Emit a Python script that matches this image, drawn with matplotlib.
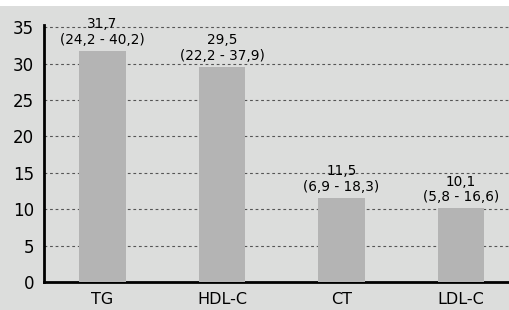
import matplotlib
matplotlib.use("Agg")
import matplotlib.pyplot as plt
from matplotlib.patches import Rectangle

categories = ["TG", "HDL-C", "CT", "LDL-C"]
values = [31.7, 29.5, 11.5, 10.1]
ranges = ["(24,2 - 40,2)", "(22,2 - 37,9)", "(6,9 - 18,3)", "(5,8 - 16,6)"]
yticks = [0, 5, 10, 15, 20, 25, 30, 35]

BG = "#dcdddc"
BAR = "#b4b4b4"

plt.rcParams["font.family"] = ["DejaVu Sans"]

fig = plt.figure(figsize=(5.1, 3.1), dpi=100)
fig.patch.set_facecolor("white")
fig.patches.append(Rectangle((0, 0), 1, 1 - 6 / 310, transform=fig.transFigure,
                             facecolor=BG, edgecolor="none", zorder=-10))

ax = fig.add_axes([44 / 510, 28 / 310, 1 - 44 / 510, (282 - 25) / 310])
ax.set_facecolor(BG)

x = list(range(len(categories)))
ax.bar(x, values, width=0.39, color=BAR, zorder=3)

for xi, v, r in zip(x, values, ranges):
    label = f"{v:.1f}".replace(".", ",")
    ax.annotate(f"{label}\n{r}", (xi, v), xytext=(0, 3), textcoords="offset points",
                ha="center", va="bottom", fontsize=9.8, linespacing=1.15, zorder=4)

ax.set_xlim(-0.49, 3.41)
ax.set_ylim(0, 35.3)
ax.set_yticks(yticks)
ax.set_xticks(x)
ax.set_xticklabels(categories, fontsize=11.5)
ax.tick_params(axis="y", length=0, pad=7, labelsize=12)
ax.tick_params(axis="x", length=0, pad=7)

ax.yaxis.grid(True, color="#555555", linewidth=0.8, linestyle=(0, (2.5, 2.5)), zorder=1)
ax.set_axisbelow(True)

for side in ("top", "right"):
    ax.spines[side].set_visible(False)
for side in ("left", "bottom"):
    ax.spines[side].set_linewidth(2)
    ax.spines[side].set_color("black")

fig.savefig("out.png", dpi=100, facecolor=fig.get_facecolor())
